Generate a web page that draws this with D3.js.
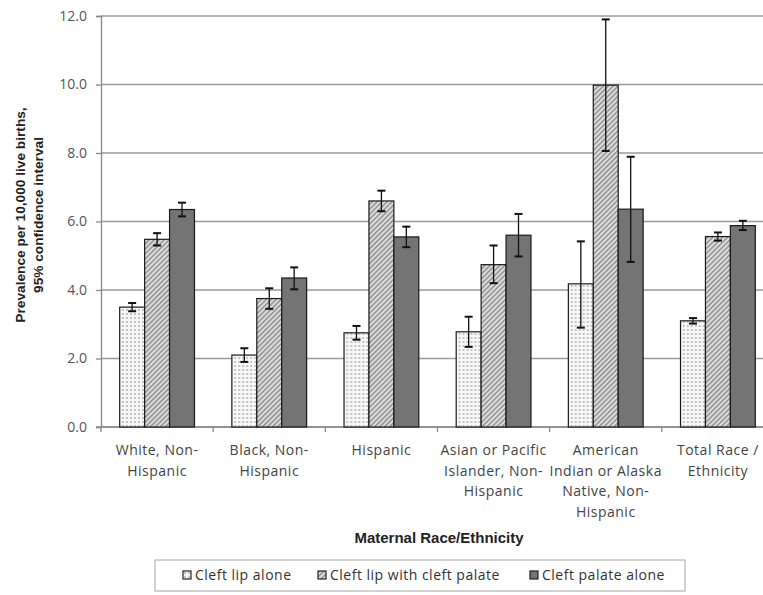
<!DOCTYPE html>
<html>
<head>
<meta charset="utf-8">
<script src="https://cdn.jsdelivr.net/npm/d3@7"></script>
<style>
  body { margin: 0; background: #fff; }
  svg { display: block; }
  .tick-lbl { font-family: "Open Sans", sans-serif; font-size: 14px; fill: #555; }
  .cat-lbl { font-family: "Open Sans", sans-serif; font-size: 14px; letter-spacing: 0.5px; fill: #444; }
  .title { font-family: "Liberation Sans", Arial, sans-serif; font-weight: bold; fill: #222; }
  .leg-lbl { font-family: "Open Sans", sans-serif; font-size: 14px; letter-spacing: 0.5px; fill: #333; }
</style>
</head>
<body>
<svg id="chart" width="763" height="595"></svg>
<script>
// categories, each line of the label
var categories = [
  ["White, Non-", "Hispanic"],
  ["Black, Non-", "Hispanic"],
  ["Hispanic"],
  ["Asian or Pacific", "Islander, Non-", "Hispanic"],
  ["American", "Indian or Alaska", "Native, Non-", "Hispanic"],
  ["Total Race /", "Ethnicity"]
];
var seriesNames = ["Cleft lip alone", "Cleft lip with cleft palate", "Cleft palate alone"];

// prevalence values and 95% CI per series
var lipAlone      = [3.50, 2.10, 2.75, 2.78, 4.18, 3.10];
var lipAloneLo    = [3.38, 1.90, 2.55, 2.34, 2.90, 3.02];
var lipAloneHi    = [3.62, 2.30, 2.95, 3.22, 5.42, 3.18];
var lipPalate     = [5.48, 3.75, 6.60, 4.74, 9.98, 5.56];
var lipPalateLo   = [5.30, 3.45, 6.30, 4.20, 8.06, 5.44];
var lipPalateHi   = [5.66, 4.05, 6.90, 5.30, 11.90, 5.68];
var palateAlone   = [6.35, 4.35, 5.55, 5.60, 6.36, 5.88];
var palateAloneLo = [6.15, 4.02, 5.25, 4.98, 4.82, 5.75];
var palateAloneHi = [6.55, 4.66, 5.85, 6.22, 7.89, 6.02];

var yTicks = [0, 2, 4, 6, 8, 10, 12];

var series = [
  {name: seriesNames[0], v: lipAlone, lo: lipAloneLo, hi: lipAloneHi, fill: "url(#dots)"},
  {name: seriesNames[1], v: lipPalate, lo: lipPalateLo, hi: lipPalateHi, fill: "url(#hatch)"},
  {name: seriesNames[2], v: palateAlone, lo: palateAloneLo, hi: palateAloneHi, fill: "#747474"}
];

var svg = d3.select("#chart");
var plotL = 101, plotR = 774, plotT = 16, plotB = 427;

// patterns
var defs = svg.append("defs");
var dots = defs.append("pattern").attr("id", "dots")
  .attr("patternUnits", "userSpaceOnUse").attr("width", 4).attr("height", 4);
dots.append("rect").attr("width", 4).attr("height", 4).attr("fill", "#f7f7f7");
dots.append("rect").attr("x", 1).attr("y", 1).attr("width", 2).attr("height", 2).attr("fill", "#c4c4c4");

var hatch = defs.append("pattern").attr("id", "hatch")
  .attr("patternUnits", "userSpaceOnUse").attr("width", 3.5).attr("height", 3.5)
  .attr("patternTransform", "rotate(45)");
hatch.append("rect").attr("width", 3.5).attr("height", 3.5).attr("fill", "#dedede");
hatch.append("rect").attr("width", 1.4).attr("height", 3.5).attr("fill", "#8a8a8a");

var y = d3.scaleLinear().domain([0, 12]).range([plotB, plotT]);
var x0 = d3.scaleBand().domain(d3.range(categories.length)).range([plotL, plotR]);
var bw = x0.bandwidth() / 4.5;
var x1 = d3.scaleBand().domain(d3.range(series.length))
  .range([x0.bandwidth() * 0.75 / 4.5, x0.bandwidth() * 3.75 / 4.5]);

// grid
svg.append("g").selectAll("line").data(yTicks).join("line")
  .attr("x1", plotL).attr("x2", plotR)
  .attr("y1", d => y(d)).attr("y2", d => y(d))
  .attr("stroke", "#9a9a9a").attr("stroke-width", 1.3);

// y axis
var yAxis = svg.append("g").attr("transform", `translate(${plotL},0)`)
  .call(d3.axisLeft(y).tickValues(yTicks).tickFormat(d3.format(".1f")).tickSize(5).tickPadding(9));
yAxis.select(".domain").attr("stroke", "#8a8a8a").attr("stroke-width", 1.3);
yAxis.selectAll(".tick line").attr("stroke", "#8a8a8a").attr("stroke-width", 1.3);
yAxis.attr("font-size", null).attr("font-family", null);
yAxis.selectAll(".tick text").attr("class", "tick-lbl");

// x axis
var xAxis = svg.append("g").attr("transform", `translate(0,${plotB})`);
xAxis.append("line").attr("x1", plotL - 5).attr("x2", plotR)
  .attr("stroke", "#8a8a8a").attr("stroke-width", 1.3);
xAxis.selectAll(".xt").data(d3.range(categories.length + 1)).join("line")
  .attr("x1", d => plotL + d * x0.step()).attr("x2", d => plotL + d * x0.step())
  .attr("y1", 0).attr("y2", 5).attr("stroke", "#8a8a8a").attr("stroke-width", 1.3);

// bars
var groups = svg.append("g").selectAll("g").data(categories).join("g")
  .attr("transform", (d, i) => `translate(${x0(i)},0)`);

groups.each(function(c, ci) {
  var g = d3.select(this);
  series.forEach(function(s, si) {
    g.append("rect")
      .attr("x", x1(si)).attr("width", bw)
      .attr("y", y(s.v[ci])).attr("height", y(0) - y(s.v[ci]))
      .attr("fill", s.fill).attr("stroke", "#1a1a1a").attr("stroke-width", 1.2);
  });
  series.forEach(function(s, si) {
    var cx = x1(si) + bw / 2;
    g.append("line").attr("x1", cx).attr("x2", cx)
      .attr("y1", y(s.lo[ci])).attr("y2", y(s.hi[ci]))
      .attr("stroke", "#111").attr("stroke-width", 1.3);
    [s.lo[ci], s.hi[ci]].forEach(function(v) {
      g.append("line").attr("x1", cx - 4).attr("x2", cx + 4)
        .attr("y1", y(v)).attr("y2", y(v))
        .attr("stroke", "#111").attr("stroke-width", 2);
    });
  });
});

// category labels
groups.append("text").attr("class", "cat-lbl").attr("text-anchor", "middle")
  .selectAll("tspan").data(d => d).join("tspan")
  .attr("x", x0.bandwidth() / 2)
  .attr("y", (d, i) => 455 + i * 20.5)
  .text(d => d);

// axis titles
svg.append("text").attr("class", "title").attr("text-anchor", "middle")
  .attr("font-size", 15).attr("x", 439).attr("y", 543).text("Maternal Race/Ethnicity");

var yt = svg.append("text").attr("class", "title").attr("text-anchor", "middle")
  .attr("font-size", 13.7).attr("transform", "translate(25,215) rotate(-90)");
yt.append("tspan").attr("x", 0).attr("y", 0).text("Prevalence per 10,000 live births,");
yt.append("tspan").attr("x", 0).attr("y", 18).text("95% confidence interval");

// legend
var legend = svg.append("g").attr("transform", "translate(155,560)");
legend.append("rect").attr("width", 530).attr("height", 31)
  .attr("fill", "#fff").attr("stroke", "#b5b5b5").attr("stroke-width", 1.2);
var legX = [28, 163, 375];
var items = legend.selectAll(".leg").data(series).join("g")
  .attr("transform", (d, i) => `translate(${legX[i]},11)`);
items.append("rect").attr("width", 8).attr("height", 8)
  .attr("fill", d => d.fill).attr("stroke", "#222").attr("stroke-width", 1.2);
items.append("text").attr("class", "leg-lbl").attr("x", 12).attr("y", 9).text(d => d.name);
</script>
</body>
</html>
